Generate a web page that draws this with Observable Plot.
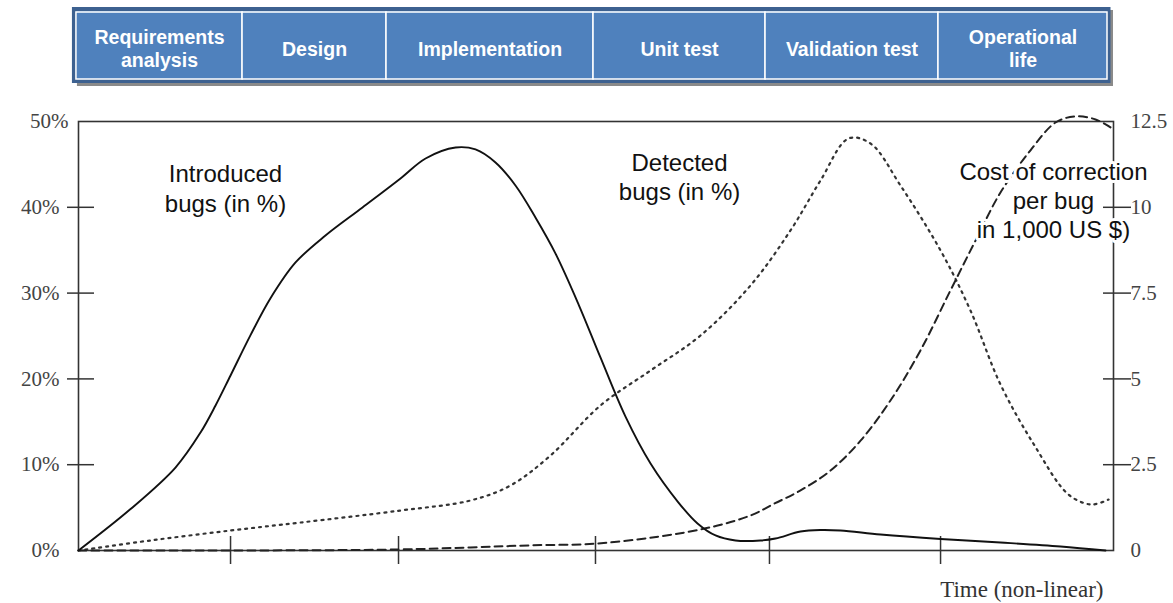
<!DOCTYPE html>
<html><head><meta charset="utf-8">
<script src="https://cdn.jsdelivr.net/npm/d3@7"></script>
<script src="https://cdn.jsdelivr.net/npm/@observablehq/plot@0.6"></script>
<style>body{margin:0;background:#fff;} svg{display:block}</style>
</head><body><div id="chart"></div>
<script>
// Phases of the life cycle (header) and their boundaries on the (non-linear) time axis, 0..100
const phases = ["Requirements\nanalysis", "Design", "Implementation", "Unit test", "Validation test", "Operational\nlife"];
const phaseEdges = [-0.2, 15.85, 29.76, 49.76, 66.38, 83.09, 99.42];
const milestoneTicks = [14.69, 30.92, 49.95, 66.76, 83.29];
const pctTicks = [0, 10, 20, 30, 40, 50];
const costTicks = [0, 2.5, 5, 7.5, 10, 12.5];

// Introduced bugs (in %)
const introducedT   = [0, 5.0, 9.37, 11.79, 13.24, 14.69, 16.62, 18.55, 20.97, 23.86, 27.44, 31.11, 33.53, 36.43, 38.36, 40.29, 42.22, 44.15, 46.09, 48.31, 50.43, 52.85, 55.27, 57.97, 59.81, 61.55, 63.48, 65.89, 67.34, 69.76, 71.69, 73.62, 77.49, 83.29, 89.08, 94.88, 99.23];
const introducedPct = [0, 4.8, 9.67, 13.75, 16.9, 20.4, 25.1, 29.4, 33.57, 36.71, 39.98, 43.36, 45.69, 46.97, 46.74, 45.22, 42.54, 38.81, 34.6, 28.7, 22.5, 15.6, 10.14, 5.59, 3.15, 1.75, 1.17, 1.17, 1.4, 2.21, 2.39, 2.33, 1.86, 1.34, 0.93, 0.47, 0];

// Detected bugs (in %)
const detectedT   = [0, 6.96, 14.69, 21.45, 31.11, 37.87, 41.74, 45.6, 50.43, 55.27, 60.1, 64.93, 68.79, 71.69, 74.4, 76.52, 79.42, 83.29, 86.18, 89.08, 92.37, 95.65, 97.87, 99.52];
const detectedPct = [0, 1.17, 2.33, 3.26, 4.66, 5.83, 7.58, 11.07, 16.9, 20.98, 25.06, 30.89, 37.3, 43.12, 48.02, 47.44, 42.54, 34.97, 27.97, 19.35, 12.24, 6.53, 5.36, 5.94];

// Cost of correction per bug (in 1,000 US $)
const costT     = [0, 14.69, 30.92, 37.87, 43.67, 49.95, 56.14, 60.97, 64.93, 67.25, 69.76, 72.66, 75.56, 78.45, 81.35, 84.25, 86.67, 89.08, 91.98, 94.4, 96.33, 98.26, 99.71];
const costValue = [0, 0, 0.03, 0.09, 0.15, 0.2, 0.41, 0.67, 1.02, 1.37, 1.75, 2.33, 3.2, 4.37, 5.83, 7.58, 9.03, 10.43, 11.66, 12.47, 12.65, 12.56, 12.33];

// Curve labels (text, time, % level)
const labelTexts = ["Introduced\nbugs (in %)", "Detected\nbugs (in %)", "Cost of correction\nper bug\nin 1,000 US $)"];
const labelT = [14.2, 58.07, 94.2];
const labelPct = [42.3, 43.6, 40.9];

const costToPct = 50 / 12.5;
const introduced = introducedT.map((t, i) => ({t, v: introducedPct[i]}));
const detected = detectedT.map((t, i) => ({t, v: detectedPct[i]}));
const cost = costT.map((t, i) => ({t, v: costValue[i]}));
const labels = labelTexts.map((text, i) => ({text, t: labelT[i], v: labelPct[i]}));
const cells = phases.map((name, i) => ({name, x1: phaseEdges[i], x2: phaseEdges[i + 1]}));
const outer = [{x1: phaseEdges[0], x2: phaseEdges[phaseEdges.length - 1]}];

const W = 1173, ML = 78, MR = 60;
const sans = "'Liberation Sans', Arial, sans-serif";
const serif = "'Liberation Serif', 'Times New Roman', serif";

const header = Plot.plot({
  width: W, height: 92,
  marginLeft: ML, marginRight: MR, marginTop: 12, marginBottom: 13,
  x: {domain: [0, 100], axis: null},
  y: {domain: [0, 1], axis: null},
  style: {background: "white"},
  marks: [
    Plot.rect(outer, {x1: "x1", x2: "x2", y1: 0, y2: 1, fill: "#8a8a8a", insetLeft: 1, insetRight: -6, insetTop: -2, insetBottom: -7}),
    Plot.rect(outer, {x1: "x1", x2: "x2", y1: 0, y2: 1, fill: "#4f81bd", stroke: "#3d6190", strokeWidth: 4, insetLeft: -2, insetRight: -1.5, insetTop: -3, insetBottom: -2}),
    Plot.rect(cells, {x1: "x1", x2: "x2", y1: 0, y2: 1, fill: "#4f81bd", stroke: "white", strokeWidth: 1.5}),
    Plot.text(cells, {x: d => (d.x1 + d.x2) / 2, y: 0.5, text: "name", fill: "white", fontWeight: "bold", fontSize: 19.5, fontFamily: sans, lineHeight: 1.2, dy: 2})
  ]
});

const chart = Plot.plot({
  width: W, height: 511,
  marginLeft: ML, marginRight: MR, marginTop: 29, marginBottom: 53,
  x: {domain: [0, 100]},
  y: {domain: [0, 50]},
  style: {background: "white", color: "#333", fontFamily: serif, fontSize: "21px"},
  marks: [
    Plot.frame({stroke: "#333", strokeWidth: 1.6}),
    Plot.axisX(milestoneTicks, {anchor: "bottom", tickSize: 28, dy: -14, tickFormat: () => "", strokeWidth: 1.5, label: null}),
    Plot.axisY(pctTicks.slice(1, 5), {anchor: "left", tickSize: 27, dx: 16, tickFormat: () => "", strokeWidth: 1.5, label: null}),
    Plot.axisY(pctTicks.slice(0, 5), {anchor: "left", tickSize: 0, tickPadding: 19, tickFormat: d => d + "%", label: null, fill: "#444"}),
    Plot.axisY(pctTicks.slice(5), {anchor: "left", tickSize: 0, tickPadding: 10, tickFormat: d => d + "%", label: null, fill: "#444"}),
    Plot.axisY(costTicks.slice(1, 5).map(c => c * costToPct), {anchor: "right", tickSize: 28, dx: -11, tickFormat: () => "", strokeWidth: 1.5, label: null}),
    Plot.axisY(costTicks.map(c => c * costToPct), {anchor: "right", tickSize: 0, tickPadding: 17, tickFormat: d => String(d / costToPct), label: null, fill: "#444"}),
    Plot.line(detected, {x: "t", y: "v", curve: "catmull-rom", stroke: "#333", strokeWidth: 2.2, strokeDasharray: "2,5"}),
    Plot.line(cost, {x: "t", y: d => d.v * costToPct, curve: "catmull-rom", stroke: "#222", strokeWidth: 2, strokeDasharray: "8,5"}),
    Plot.line(introduced, {x: "t", y: "v", curve: "catmull-rom", stroke: "#111", strokeWidth: 1.9}),
    Plot.text(labels, {x: "t", y: "v", text: "text", fontFamily: sans, fontSize: 24, lineHeight: 1.22, fill: "#111", stroke: "white", strokeWidth: 6, paintOrder: "stroke", ariaLabel: "curve-label"}),
    Plot.text(["Time (non-linear)"], {frameAnchor: "bottom-right", text: d => d, dx: -10, dy: 46, fontFamily: serif, fontSize: 23, fill: "#333", textAnchor: "end"})
  ]
});

d3.select(chart).selectAll('g[aria-label="curve-label"] text').filter(d => labelTexts[d] && labelTexts[d].startsWith("Cost")).style("letter-spacing", "-0.7px");

const root = document.getElementById("chart");
root.appendChild(header);
root.appendChild(chart);
</script>
</body></html>
